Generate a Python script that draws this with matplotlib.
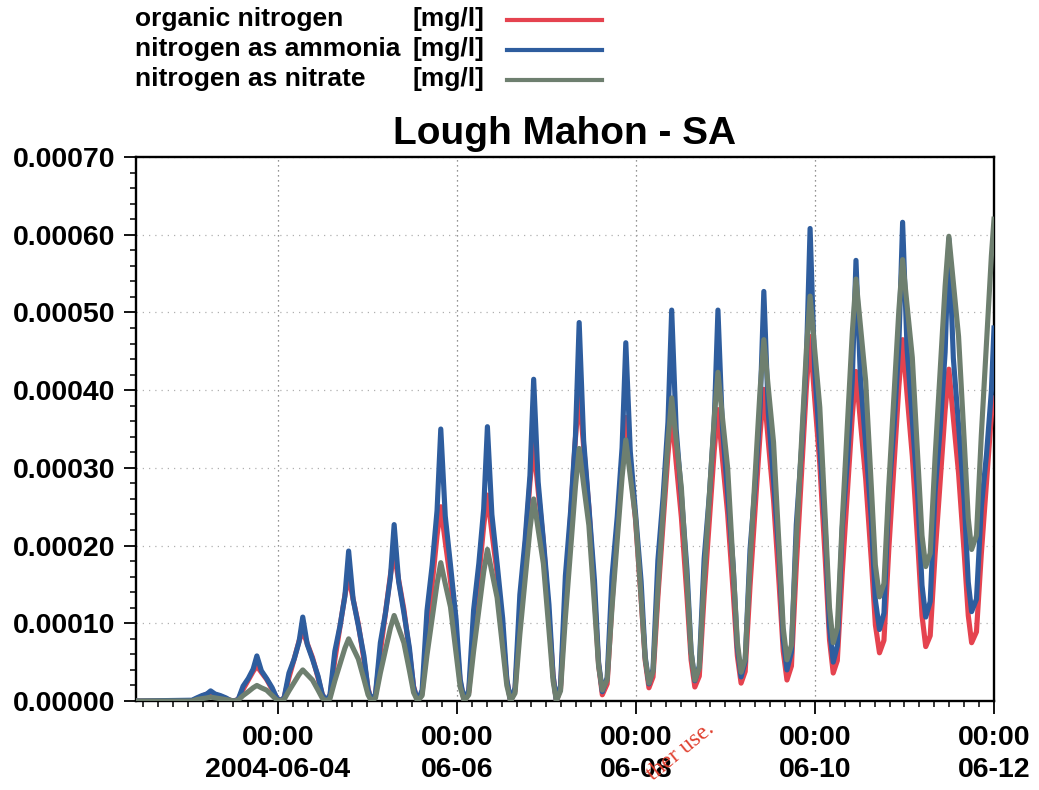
import numpy as np
import pandas as pd
import matplotlib
matplotlib.use('Agg')
import matplotlib.pyplot as plt
import matplotlib.dates as mdates
from matplotlib.ticker import MultipleLocator, FixedLocator
from matplotlib.lines import Line2D

plt.rcParams['font.family'] = ['Liberation Sans', 'DejaVu Sans']
plt.rcParams['font.weight'] = 'bold'

# hours after 2004-06-04 00:00, one row per tidal cycle:
# trough, rising limb (4 pts), peak, falling limb (4 pts)
hours = [
    [-38.0, -23.0, -21.7, -20.3, -19.0, -18.0, -16.8, -15.4, -13.9, -12.8],
    [-11.8, -10.6, -9.3, -7.9, -6.6, -5.6, -4.4, -3.0, -1.5, -0.4],
    [0.5, 1.7, 3.0, 4.4, 5.7, 6.7, 7.9, 9.3, 10.8, 11.9],
    [12.9, 14.0, 15.3, 16.7, 18.0, 19.0, 20.2, 21.6, 23.1, 24.2],
    [25.1, 26.2, 27.5, 28.9, 30.2, 31.2, 32.4, 33.8, 35.3, 36.4],
    [37.5, 38.7, 40.0, 41.4, 42.7, 43.7, 44.9, 46.3, 47.8, 48.9],
    [50.0, 51.2, 52.5, 53.9, 55.2, 56.2, 57.4, 58.8, 60.3, 61.4],
    [62.4, 63.6, 64.9, 66.3, 67.6, 68.6, 69.8, 71.2, 72.7, 73.8],
    [74.7, 75.8, 77.1, 78.5, 79.8, 80.8, 82.0, 83.4, 84.9, 86.0],
    [87.0, 88.3, 89.6, 91.0, 92.3, 93.3, 94.5, 95.9, 97.4, 98.5],
    [99.5, 100.6, 101.9, 103.3, 104.6, 105.6, 106.8, 108.2, 109.7, 110.8],
    [111.8, 113.0, 114.3, 115.7, 117.0, 118.0, 119.2, 120.6, 122.1, 123.2],
    [124.2, 125.3, 126.6, 128.0, 129.3, 130.3, 131.5, 132.9, 134.4, 135.5],
    [136.5, 137.7, 139.0, 140.4, 141.7, 142.7, 143.9, 145.3, 146.8, 147.9],
    [148.9, 150.0, 151.3, 152.7, 154.0, 155.0, 156.2, 157.6, 159.1, 160.2],
    [161.3, 162.5, 163.8, 165.2, 166.5, 167.5, 168.7, 170.1, 171.6, 172.7],
    [173.7, 174.9, 176.2, 177.6, 178.9, 179.9, 181.1, 182.5, 184.0, 185.1],
    [186.0, 187.3, 188.6, 190.0, 191.3, 192.0],
]

# concentrations in 1e-5 mg/l
organic = [
    [0, 0.0, 0.3, 0.6, 0.9, 1.0, 0.8, 0.6, 0.3, 0.1],
    [0, 0.2, 1.5, 2.7, 3.8, 4.5, 3.7, 2.8, 1.5, 0.5],
    [0, 0.4, 3.0, 5.4, 7.7, 9.0, 7.4, 5.6, 3.0, 0.9],
    [0, 0.6, 5.3, 9.6, 13.6, 16.0, 13.1, 9.9, 5.3, 1.6],
    [0, 0.8, 6.3, 11.4, 16.2, 19.0, 15.6, 11.8, 6.3, 1.9],
    [0, 1.0, 8.3, 15.0, 21.3, 25.0, 20.5, 15.5, 8.3, 2.5],
    [0, 1.1, 8.8, 15.9, 22.5, 26.5, 21.7, 16.4, 8.8, 2.7],
    [0, 1.3, 10.9, 19.8, 28.1, 33.0, 27.1, 20.5, 10.9, 3.3],
    [0, 1.6, 13.1, 23.8, 33.8, 39.7, 32.7, 24.9, 13.6, 4.7],
    [0.8, 2.2, 12.6, 22.2, 31.2, 36.5, 30.2, 23.3, 13.2, 5.2],
    [1.7, 3.1, 13.4, 22.9, 31.7, 37.0, 30.7, 23.6, 13.4, 5.3],
    [1.8, 3.2, 13.6, 23.2, 32.2, 37.5, 31.2, 24.1, 13.9, 5.8],
    [2.3, 3.8, 14.8, 25.0, 34.4, 40.1, 33.4, 25.9, 15.0, 6.4],
    [2.7, 4.5, 17.3, 29.2, 40.3, 46.9, 39.1, 30.5, 17.9, 7.9],
    [3.6, 5.2, 16.4, 26.9, 36.6, 42.4, 35.9, 28.6, 18.2, 9.8],
    [6.2, 7.8, 19.5, 30.4, 40.5, 46.5, 39.4, 31.5, 20.0, 11.0],
    [7.0, 8.4, 18.8, 28.4, 37.4, 42.7, 36.4, 29.3, 19.1, 11.0],
    [7.5, 8.9, 18.9, 28.2, 36.8, 39.0],
]

ammonia = [
    [0, 0.1, 0.4, 0.7, 0.9, 1.3, 0.9, 0.7, 0.4, 0.1],
    [0, 0.2, 1.9, 2.9, 4.1, 5.8, 3.9, 2.9, 1.7, 0.5],
    [0, 0.4, 3.6, 5.4, 7.6, 10.8, 7.3, 5.4, 3.2, 0.9],
    [0, 0.8, 6.4, 9.7, 13.5, 19.3, 13.1, 9.7, 5.8, 1.5],
    [0, 0.9, 7.5, 11.4, 15.9, 22.7, 15.4, 11.4, 6.8, 1.8],
    [0, 1.4, 11.6, 17.5, 24.5, 35.0, 23.8, 17.5, 10.5, 2.8],
    [0, 1.4, 11.7, 17.7, 24.7, 35.3, 24.0, 17.7, 10.6, 2.8],
    [0, 1.7, 13.7, 20.7, 29.0, 41.4, 28.2, 20.7, 12.4, 3.3],
    [0, 2.0, 16.1, 24.4, 34.1, 48.7, 33.5, 25.0, 15.5, 5.0],
    [1.2, 3.0, 16.0, 23.7, 32.6, 46.1, 32.1, 24.2, 15.4, 5.7],
    [2.2, 4.1, 18.1, 26.3, 35.9, 50.3, 35.0, 26.5, 16.9, 6.4],
    [2.6, 4.5, 18.3, 26.5, 36.0, 50.3, 35.2, 26.7, 17.3, 6.9],
    [3.1, 5.1, 19.5, 27.9, 37.8, 52.7, 37.1, 28.4, 18.6, 7.9],
    [4.0, 6.3, 22.7, 32.4, 43.8, 60.8, 42.9, 32.9, 21.7, 9.5],
    [5.0, 7.1, 22.1, 30.9, 41.2, 56.7, 41.5, 33.0, 23.5, 13.0],
    [9.2, 11.3, 26.5, 35.4, 45.9, 61.6, 45.3, 36.2, 26.0, 14.9],
    [10.8, 12.8, 26.9, 35.2, 44.9, 59.5, 44.1, 35.5, 25.9, 15.3],
    [11.5, 13.1, 24.9, 31.8, 39.9, 48.0],
]

nitrate = [
    [0, 0.0, 0.2, 0.3, 0.4, 0.5, 0.4, 0.3, 0.2, 0.1],
    [0, 0.1, 0.7, 1.2, 1.7, 2.0, 1.7, 1.4, 0.7, 0.2],
    [0, 0.2, 1.3, 2.4, 3.4, 4.0, 3.4, 2.7, 1.4, 0.4],
    [0, 0.3, 2.6, 4.8, 6.8, 8.0, 6.8, 5.4, 2.8, 0.8],
    [0, 0.4, 3.6, 6.6, 9.4, 11.0, 9.4, 7.5, 3.9, 1.1],
    [0, 0.7, 5.9, 10.7, 15.1, 17.8, 15.1, 12.1, 6.2, 1.8],
    [0, 0.8, 6.4, 11.7, 16.6, 19.5, 16.6, 13.3, 6.8, 2.0],
    [0, 1.0, 8.6, 15.6, 22.1, 26.0, 22.1, 17.7, 9.1, 2.6],
    [0, 1.3, 10.7, 19.5, 27.6, 32.5, 27.8, 22.6, 12.3, 4.5],
    [1.4, 2.7, 12.0, 20.7, 28.8, 33.6, 28.9, 23.6, 13.3, 5.4],
    [2.3, 3.8, 14.4, 24.3, 33.5, 39.0, 33.6, 27.4, 15.4, 6.3],
    [2.7, 4.3, 15.8, 26.5, 36.4, 42.3, 36.5, 30.0, 17.2, 7.6],
    [3.7, 5.4, 17.8, 29.4, 40.1, 46.5, 40.3, 33.3, 19.7, 9.4],
    [5.3, 7.2, 20.7, 33.4, 45.1, 52.1, 45.4, 37.8, 23.1, 12.0],
    [7.5, 9.4, 22.9, 35.6, 47.3, 54.3, 48.2, 41.2, 27.7, 17.5],
    [13.4, 15.1, 27.7, 39.4, 50.3, 56.8, 50.9, 44.2, 31.1, 21.3],
    [17.3, 19.0, 31.3, 42.8, 53.4, 59.8, 53.8, 46.9, 33.6, 23.5],
    [19.5, 21.3, 34.2, 46.2, 57.3, 62.0],
]

series_names = ['organic nitrogen', 'nitrogen as ammonia', 'nitrogen as nitrate']
unit = '[mg/l]'
tick_dates = ['2004-06-04', '2004-06-06', '2004-06-08', '2004-06-10', '2004-06-12']
tick_labels = ['00:00\n2004-06-04', '00:00\n06-06', '00:00\n06-08', '00:00\n06-10', '00:00\n06-12']

red = '#E5434F'
blue = '#2E5D9E'
green = '#6E7F6F'

hrs = np.concatenate([np.array(r, float) for r in hours])
times = pd.Timestamp('2004-06-04') + pd.to_timedelta(hrs, unit='h')


def flat(rows):
    return np.concatenate([np.array(r, float) for r in rows]) * 1e-5


fig = plt.figure(figsize=(10.39, 7.90), dpi=100)
ax = fig.add_axes([136 / 1039, 1 - 701 / 790, (994 - 136) / 1039, (701 - 157) / 790])

# organic underneath, then ammonia, nitrate on top
lw = 3.7
ax.plot(times, flat(organic), color=red, lw=lw, solid_joinstyle='round', zorder=3)
ax.plot(times, flat(ammonia), color=blue, lw=lw, solid_joinstyle='round', zorder=4)
ax.plot(times, flat(nitrate), color=green, lw=lw, solid_joinstyle='round', zorder=5)

ax.set_xlim(mdates.datestr2num('2004-06-02 10:00'), mdates.datestr2num('2004-06-12 00:00'))
ax.set_ylim(0, 0.0007)

ax.xaxis.set_major_locator(FixedLocator(mdates.datestr2num(tick_dates)))
ax.set_xticklabels(tick_labels, fontsize=20.5, fontweight='bold', linespacing=1.3)
ax.xaxis.set_minor_locator(mdates.HourLocator(byhour=range(0, 24, 4)))

ax.yaxis.set_major_locator(MultipleLocator(0.0001))
ax.yaxis.set_minor_locator(MultipleLocator(0.00002))
ax.yaxis.set_major_formatter(plt.FuncFormatter(lambda v, p: '%.5f' % v))
ax.tick_params(axis='y', labelsize=20.5)

ax.tick_params(which='major', length=9, width=1.3, direction='out', pad=6)
ax.tick_params(which='minor', length=4, width=1.1, direction='out')
ax.tick_params(axis='x', which='major', pad=8)

for s in ax.spines.values():
    s.set_linewidth(1.7)

ax.yaxis.grid(True, which='major', color='#b0b0b0', lw=0.9, ls=(0, (1, 4)))
ax.xaxis.grid(True, which='major', color='#707070', lw=0.9, ls=(0, (1, 3)))
ax.set_axisbelow(True)

ax.set_title('Lough Mahon - SA', fontsize=28, fontweight='bold', pad=9)

# legend drawn at the top left of the figure
leg_colors = [red, blue, green]
for i, (name, col) in enumerate(zip(series_names, leg_colors)):
    yc = 1 - (19 + 30 * i) / 790
    fig.text(135 / 1039, yc, name, fontsize=19, fontweight='bold', va='center', ha='left')
    fig.text(413 / 1039, yc, unit, fontsize=19, fontweight='bold', va='center', ha='left')
    ly = 1 - (20 + 30 * i) / 790
    fig.add_artist(Line2D([507 / 1039, 602 / 1039], [ly, ly], color=col, lw=3.0,
                          transform=fig.transFigure))

# scan watermark fragment
fig.text(681 / 1039, 1 - 752 / 790, 'ther use.', color='#E0402F', fontsize=17,
         family=['Liberation Serif', 'DejaVu Serif'], fontweight='normal',
         rotation=39, ha='center', va='center')

fig.savefig('out.png', dpi=100)
